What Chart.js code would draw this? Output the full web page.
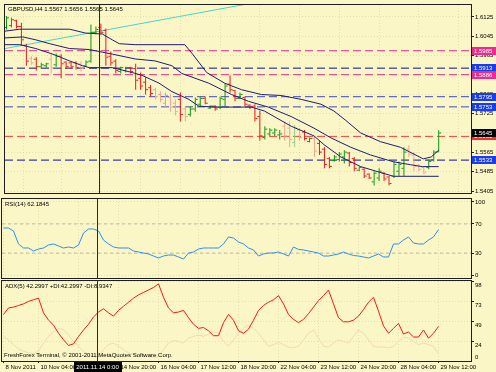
<!DOCTYPE html>
<html>
<head>
<meta charset="utf-8">
<title>GBPUSD,H4</title>
<script src="https://cdn.jsdelivr.net/npm/chart.js@4.4.1/dist/chart.umd.min.js"></script>
<style>
  html, body { margin: 0; padding: 0; background: #fbf6c6; }
  #terminal { position: relative; width: 496px; height: 372px; overflow: hidden; background: #fbf6c6; }
  #terminal canvas { position: absolute; left: 0; }
</style>
</head>
<body>
<div id="terminal">
  <canvas id="priceChart" width="496" height="198" style="top:0"></canvas>
  <canvas id="rsiChart" width="496" height="81" style="top:198px"></canvas>
  <canvas id="adxChart" width="496" height="93" style="top:279px"></canvas>
</div>
<script>
const symbol = "GBPUSD";
const period = "H4";

// H4 bars, oldest first
const opens = [1.6081,1.6089,1.6109,1.6085,1.6006,1.5954,1.5950,1.5919,1.5923,1.5950,
  1.5927,1.5962,1.5938,1.5935,1.5935,1.5931,1.5923,1.5942,1.6061,1.6081,
  1.6069,1.5962,1.5942,1.5899,1.5903,1.5915,1.5911,1.5871,1.5855,1.5832,
  1.5824,1.5804,1.5768,1.5792,1.5768,1.5784,1.5744,1.5721,1.5744,1.5764,
  1.5788,1.5748,1.5756,1.5752,1.5784,1.5847,1.5820,1.5788,1.5792,1.5760,
  1.5756,1.5713,1.5626,1.5641,1.5645,1.5637,1.5673,1.5665,1.5606,1.5657,
  1.5649,1.5610,1.5622,1.5602,1.5578,1.5539,1.5531,1.5535,1.5546,1.5562,
  1.5539,1.5491,1.5495,1.5475,1.5443,1.5459,1.5479,1.5463,1.5467,1.5487,
  1.5499,1.5578,1.5554,1.5511,1.5503,1.5503,1.5535,1.5567];
const highs = [1.6129,1.6121,1.6113,1.6101,1.6014,1.5962,1.5958,1.5935,1.5935,1.5970,
  1.5974,1.5970,1.5942,1.5942,1.5942,1.5942,1.5946,1.6093,1.6085,1.6097,
  1.6077,1.5982,1.5950,1.5919,1.5919,1.5919,1.5931,1.5895,1.5875,1.5843,
  1.5832,1.5816,1.5812,1.5804,1.5784,1.5812,1.5756,1.5756,1.5792,1.5796,
  1.5796,1.5760,1.5760,1.5796,1.5851,1.5883,1.5824,1.5812,1.5796,1.5764,
  1.5764,1.5737,1.5673,1.5665,1.5665,1.5657,1.5693,1.5693,1.5677,1.5665,
  1.5657,1.5626,1.5633,1.5614,1.5586,1.5546,1.5554,1.5566,1.5574,1.5566,
  1.5546,1.5507,1.5499,1.5479,1.5487,1.5499,1.5483,1.5467,1.5527,1.5527,
  1.5586,1.5594,1.5566,1.5515,1.5507,1.5535,1.5574,1.5656];
const lows = [1.6073,1.6081,1.6077,1.6006,1.5923,1.5927,1.5903,1.5911,1.5915,1.5891,
  1.5919,1.5871,1.5911,1.5911,1.5907,1.5899,1.5919,1.5935,1.6053,1.6053,
  1.5923,1.5923,1.5891,1.5891,1.5895,1.5891,1.5824,1.5824,1.5804,1.5796,
  1.5784,1.5772,1.5752,1.5733,1.5717,1.5693,1.5693,1.5713,1.5733,1.5752,
  1.5764,1.5744,1.5737,1.5744,1.5756,1.5812,1.5776,1.5784,1.5756,1.5744,
  1.5693,1.5614,1.5618,1.5633,1.5633,1.5618,1.5614,1.5586,1.5586,1.5614,
  1.5614,1.5606,1.5546,1.5554,1.5499,1.5499,1.5527,1.5527,1.5519,1.5507,
  1.5487,1.5487,1.5459,1.5455,1.5428,1.5447,1.5447,1.5428,1.5459,1.5467,
  1.5467,1.5546,1.5487,1.5487,1.5475,1.5495,1.5527,1.5565];
const closes = [1.6121,1.6113,1.6085,1.6030,1.5942,1.5935,1.5919,1.5927,1.5931,1.5915,
  1.5962,1.5931,1.5919,1.5919,1.5915,1.5911,1.5938,1.6061,1.6073,1.6061,
  1.5958,1.5935,1.5903,1.5915,1.5915,1.5899,1.5863,1.5839,1.5824,1.5808,
  1.5796,1.5784,1.5800,1.5752,1.5733,1.5721,1.5713,1.5744,1.5784,1.5788,
  1.5768,1.5756,1.5744,1.5788,1.5839,1.5824,1.5788,1.5804,1.5764,1.5752,
  1.5705,1.5633,1.5661,1.5657,1.5657,1.5641,1.5633,1.5618,1.5665,1.5626,
  1.5622,1.5622,1.5570,1.5566,1.5515,1.5507,1.5546,1.5558,1.5566,1.5523,
  1.5499,1.5503,1.5467,1.5459,1.5479,1.5487,1.5455,1.5436,1.5515,1.5515,
  1.5566,1.5558,1.5507,1.5495,1.5483,1.5527,1.5566,1.5645];
// bars the terminal paints in the pale shade
const lightBars = [5, 9, 15, 30, 31, 32, 33, 34, 36, 56, 57, 58, 59, 62, 81, 82, 83, 84];

// channel lines, [bar, price] vertices
const upperBand = [[-0.3,1.6066],[2.7,1.6074],[12.7,1.6074],[15.9,1.6058],[19.3,1.6054],[21.3,1.6030],
  [22.7,1.6014],[25.9,1.6010],[35.9,1.6010],[37.3,1.5975],[40.3,1.5895],[43.9,1.5851],[47.3,1.5824],
  [51.3,1.5804],[55.3,1.5800],[59.3,1.5784],[63.3,1.5764],[65.9,1.5736],[68.3,1.5697],[71.3,1.5645],
  [75.3,1.5609],[79.3,1.5586],[83.9,1.5538],[85.5,1.5546],[87,1.5574]];
const middleBand = [[-0.3,1.6038],[3.3,1.6042],[5.9,1.6030],[8.7,1.6014],[12.7,1.5994],[16.7,1.5990],
  [19.3,1.5979],[21.3,1.5971],[25.9,1.5951],[29.9,1.5943],[33.3,1.5923],[35.3,1.5891],[40.7,1.5851],
  [45.3,1.5804],[48.7,1.5776],[52.7,1.5752],[57.3,1.5713],[61.9,1.5665],[65.3,1.5625],[69.3,1.5586],
  [73.3,1.5554],[77.9,1.5526],[81.3,1.5514],[83.7,1.5506],[87,1.5506]];
const lowerBand = [[-0.3,1.6010],[2.7,1.6010],[5.9,1.5994],[9.3,1.5971],[12.7,1.5943],[15.3,1.5923],
  [16.7,1.5915],[21.3,1.5915],[25.3,1.5895],[27.3,1.5883],[30.7,1.5851],[33.3,1.5816],[36.7,1.5784],
  [38.7,1.5756],[41.9,1.5752],[49.3,1.5752],[51.9,1.5736],[57.3,1.5673],[61.9,1.5633],[63.9,1.5597],
  [67.3,1.5546],[71.3,1.5506],[77.9,1.5466],[87,1.5466]];
const trendLine = [[-0.3, 1.5994], [50, 1.6184]];

const levelPrices = [1.5985, 1.5913, 1.5886, 1.5795, 1.5753, 1.5631, 1.5533];
const levelKinds = ["pink", "navy", "pink", "blue", "blue", "red", "navy"];
const priceTicks = [1.6125, 1.6045, 1.5965, 1.5885, 1.5805, 1.5725, 1.5645, 1.5565, 1.5485, 1.5405];

const rsiValues = [64.4,64.4,60.3,42.5,37.0,37.0,32.9,35.6,37.0,41.1,
  42.5,39.7,37.0,38.4,37.0,41.1,57.5,63.0,63.0,60.3,
  47.9,42.5,38.4,37.0,37.0,37.0,32.9,31.5,30.1,28.8,
  26.0,23.3,26.0,27.4,27.4,24.7,21.9,30.1,31.5,35.6,
  37.0,37.0,37.0,37.0,42.5,52.1,50.7,45.2,42.5,37.0,
  34.3,26.0,28.8,30.1,30.1,31.5,28.8,26.0,38.4,35.0,
  34.3,32.9,31.5,30.1,26.0,26.0,27.4,28.8,31.5,28.8,
  26.7,26.0,24.7,23.3,26.0,28.8,24.7,24.7,42.5,42.5,
  47.9,52.1,43.8,42.5,42.5,47.9,52.1,62.1845];
const rsiLevels = [30, 70];
const rsiTicks = [0, 30, 70, 100];

const adxValues = [57,65,66,68,70,73,75,77,59,50,
  44,34,26,19,21,30,38,45,54,60,
  64,59,55,62,67,72,77,81,84,87,
  90,94.5,78,65,59,60,62,53,45,40,
  41,37,31,31,47,57,50,37,34,39,
  50,62,68,72,75,80,70,57,51,47,
  51,58,66,74,80,87,70,53,48,48,
  50,55,63,72,78,61,43,34,40,46,
  33,35.5,29.4,29.4,38,28,34,42.2997];
const plusDiLast = 42.2997;
const minusDi = [30,26,20,15,12,10,9,12,22,30,
  36,40,38,32,24,18,12,8,6,5,
  14,20,22,18,14,10,8,7,6,6,
  5,5,14,22,25,24,22,28,30,32,
  30,33,36,34,24,18,26,34,40,44,
  40,34,26,18,20,23,20,17,16,18,
  26,34,38,28,18,17,22,26,24,22,
  30,38,34,26,18,17,17,16,18,24,
  29,28,24,20,22,20,18,8.9347];
const adxTicks = [24, 49, 73, 98];

const timeTickIndex = [0, 7, 15, 23, 31, 39, 47, 55, 63, 71, 79, 87];
const timeLabels = ["8 Nov 2011", "10 Nov 04:00", "11 Nov 12:00", "14 Nov 20:00", "16 Nov 04:00", "17 Nov 12:00",
  "18 Nov 20:00", "22 Nov 04:00", "23 Nov 12:00", "24 Nov 20:00", "28 Nov 04:00", "29 Nov 12:00"];
const crossIndex = 18.8;
const crossLabel = "2011.11.14 0:00";
const copyright = "FreshForex Terminal, © 2001-2011 MetaQuotes Software Corp.";

// ---- look ----
const FONT = "'Liberation Sans', Arial, sans-serif";
const FONT_PX = 6;
const GRID = "rgba(150, 140, 100, 0.22)";
const FRAME = "#1e1e1e";
const BAR_COLORS = { up: "#0a990a", down: "#f01515", upLight: "#93c98c", downLight: "#f6a392" };
const BAND_COLOR = "#1c1c7a";
const LEVEL_STYLE = {
  pink: { line: "#ea2a86", box: "#ee2a8e" },
  navy: { line: "#0b0ba6", box: "#1a3cf0" },
  blue: { line: "#3a48cc", box: "#1a3cf0" },
  red:  { line: "#ff3b3b", box: "#ff2b2b" }
};
const X_MIN = -0.3, X_MAX = 93.5;

const barIdx = closes.map((_, i) => i);
const barColors = barIdx.map(i => {
  const light = lightBars.includes(i);
  if (closes[i] >= opens[i]) return light ? BAR_COLORS.upLight : BAR_COLORS.up;
  return light ? BAR_COLORS.downLight : BAR_COLORS.down;
});
const toPoints = arr => arr.map(([x, y]) => ({ x, y }));
const series = arr => arr.map((y, x) => ({ x, y }));
const flat = v => [{ x: X_MIN, y: v }, { x: X_MAX, y: v }];

function lineDs(data, color, order, extra) {
  return Object.assign({
    type: "line", data, borderColor: color, borderWidth: 1,
    pointRadius: 0, tension: 0, fill: false, order
  }, extra || {});
}

function xScale(showLabels) {
  return {
    type: "linear", min: X_MIN, max: X_MAX, offset: false,
    afterBuildTicks: s => { s.ticks = timeTickIndex.map(v => ({ value: v })); },
    afterFit: s => { s.height = showLabels ? 11 : 0; s.paddingLeft = 0; s.paddingRight = 0; },
    grid: { color: GRID, drawTicks: showLabels, tickLength: 2, tickColor: FRAME },
    border: { display: false, dash: [1, 2] },
    ticks: {
      display: showLabels, autoSkip: false, maxRotation: 0, align: "start", labelOffset: 2, padding: 1,
      color: "#000", font: { family: FONT, size: FONT_PX }, callback: (v, i) => timeLabels[i]
    }
  };
}

function yScale(min, max, values, fmt, labelOffset) {
  return {
    type: "linear", position: "right", min, max,
    afterBuildTicks: s => { s.ticks = values.map(v => ({ value: v })); },
    afterFit: s => { s.width = 25; s.paddingTop = 0; s.paddingBottom = 0; },
    grid: { color: GRID, tickColor: FRAME, tickLength: 3 },
    border: { display: false, dash: [1, 2] },
    ticks: {
      autoSkip: false, padding: 1, labelOffset: labelOffset || 0,
      color: "#000", font: { family: FONT, size: FONT_PX }, callback: fmt
    }
  };
}

function options(padding, scales, pluginOpts) {
  return {
    responsive: false, animation: false, devicePixelRatio: 1, events: [],
    layout: { padding },
    scales,
    plugins: Object.assign({ legend: { display: false }, tooltip: { enabled: false } }, pluginOpts || {})
  };
}

const framePlugin = {
  id: "frame",
  afterDraw(chart) {
    const { ctx, chartArea: a } = chart;
    ctx.save();
    ctx.strokeStyle = FRAME;
    ctx.lineWidth = 1;
    ctx.strokeRect(a.left - 0.5, a.top - 0.5, a.right - a.left + 1, a.bottom - a.top + 1);
    ctx.restore();
  }
};

const crossPlugin = {
  id: "cross",
  afterDatasetsDraw(chart, args, opts) {
    const { ctx, chartArea: a, scales: { x } } = chart;
    const px = Math.floor(x.getPixelForValue(crossIndex)) + 0.5;
    ctx.save();
    ctx.strokeStyle = "#2a2a2a";
    ctx.lineWidth = 1;
    ctx.beginPath();
    ctx.moveTo(px, a.top);
    ctx.lineTo(px, opts.toBottom ? chart.height : a.bottom);
    ctx.stroke();
    ctx.restore();
  }
};

function writeText(ctx, text, x, y, color, align) {
  ctx.fillStyle = color || "#000";
  ctx.textAlign = align || "left";
  ctx.textBaseline = "middle";
  ctx.font = `${FONT_PX}px ${FONT}`;
  ctx.fillText(text, x, y);
}

const priceOverlay = {
  id: "priceOverlay",
  afterDraw(chart) {
    const { ctx, chartArea: a, scales: { y } } = chart;
    const n = closes.length - 1;
    const box = (price, fill) => {
      const py = Math.round(y.getPixelForValue(price));
      ctx.fillStyle = fill;
      ctx.fillRect(a.right + 1, py - 4, chart.width - a.right - 1, 8);
      writeText(ctx, price.toFixed(4), a.right + 3, py, "#fff");
    };
    ctx.save();
    levelPrices.forEach((p, k) => box(p, LEVEL_STYLE[levelKinds[k]].box));
    box(closes[n], "#000");
    writeText(ctx, `${symbol},${period} ${opens[n].toFixed(4)} ${highs[n].toFixed(4)} ${lows[n].toFixed(4)} ${closes[n].toFixed(4)}`,
      a.left + 3, a.top + 4);
    ctx.restore();
  }
};

const rsiOverlay = {
  id: "rsiOverlay",
  afterDraw(chart) {
    const { ctx, chartArea: a } = chart;
    ctx.save();
    writeText(ctx, `RSI(14) ${rsiValues[rsiValues.length - 1].toFixed(4)}`, a.left + 3, a.top + 5);
    ctx.restore();
  }
};

const adxOverlay = {
  id: "adxOverlay",
  afterDraw(chart) {
    const { ctx, chartArea: a, scales: { x, y } } = chart;
    const n = adxValues.length - 1;
    ctx.save();
    writeText(ctx, `ADX(5) ${adxValues[n].toFixed(4)} +DI:${plusDiLast.toFixed(4)} -DI:${minusDi[n].toFixed(4)}`, a.left + 3, a.top + 5);
    writeText(ctx, copyright, a.left + 2, a.bottom - 6);
    writeText(ctx, "0", a.right + 4, Math.min(y.getPixelForValue(0), a.bottom - 4));
    const px = Math.floor(x.getPixelForValue(crossIndex)) + 0.5;
    ctx.font = `${FONT_PX}px ${FONT}`;
    const w = Math.round(ctx.measureText(crossLabel).width + 6);
    ctx.fillStyle = "#000";
    ctx.fillRect(Math.round(px - w / 2), a.bottom + 1, w, chart.height - a.bottom - 1);
    writeText(ctx, crossLabel, px, a.bottom + 6, "#fff", "center");
    ctx.restore();
  }
};

const priceDatasets = [
  ...levelPrices.map((p, k) => lineDs(flat(p), LEVEL_STYLE[levelKinds[k]].line, 6, { borderDash: [8, 4] })),
  lineDs(toPoints(trendLine), "#48d4d0", 5),
  {
    type: "bar", data: barIdx.map(i => ({ x: i, y: [lows[i], highs[i]] })),
    backgroundColor: barColors, barThickness: 1, borderWidth: 0, inflateAmount: 0, grouped: false, order: 3
  },
  {
    type: "scatter", data: barIdx.map(i => ({ x: i - 0.3, y: opens[i] })),
    pointStyle: "line", pointRadius: 1, borderColor: barColors, borderWidth: 1, order: 2
  },
  {
    type: "scatter", data: barIdx.map(i => ({ x: i + 0.3, y: closes[i] })),
    pointStyle: "line", pointRadius: 1, borderColor: barColors, borderWidth: 1, order: 2
  },
  lineDs(toPoints(upperBand), BAND_COLOR, 1),
  lineDs(toPoints(middleBand), BAND_COLOR, 1),
  lineDs(toPoints(lowerBand), BAND_COLOR, 1)
];

new Chart(document.getElementById("priceChart"), {
  type: "line",
  data: { datasets: priceDatasets },
  options: options({ left: 2, top: 2, right: 0, bottom: 1 }, {
    x: xScale(false),
    y: yScale(1.5397, 1.6174, priceTicks, v => v.toFixed(4))
  }, { cross: { toBottom: false } }),
  plugins: [framePlugin, crossPlugin, priceOverlay]
});

new Chart(document.getElementById("rsiChart"), {
  type: "line",
  data: {
    datasets: [
      ...rsiLevels.map(v => lineDs(flat(v), "#bdb9a6", 3, { borderDash: [3, 3] })),
      lineDs(series(rsiValues), "#2b8ff2", 1)
    ]
  },
  options: options({ left: 2, top: 1, right: 0, bottom: 1 }, {
    x: xScale(false),
    y: yScale(-4.1, 104.1, rsiTicks, v => String(v))
  }, { cross: { toBottom: false } }),
  plugins: [framePlugin, crossPlugin, rsiOverlay]
});

new Chart(document.getElementById("adxChart"), {
  type: "line",
  data: {
    datasets: [
      lineDs(series(minusDi), "#f1d8b4", 2),
      lineDs(series(adxValues), "#ff1414", 1)
    ]
  },
  options: options({ left: 2, top: 2, right: 0, bottom: 0 }, {
    x: xScale(true),
    y: yScale(0, 98, adxTicks, v => String(v), 4)
  }, { cross: { toBottom: true } }),
  plugins: [framePlugin, crossPlugin, adxOverlay]
});
</script>
</body>
</html>
